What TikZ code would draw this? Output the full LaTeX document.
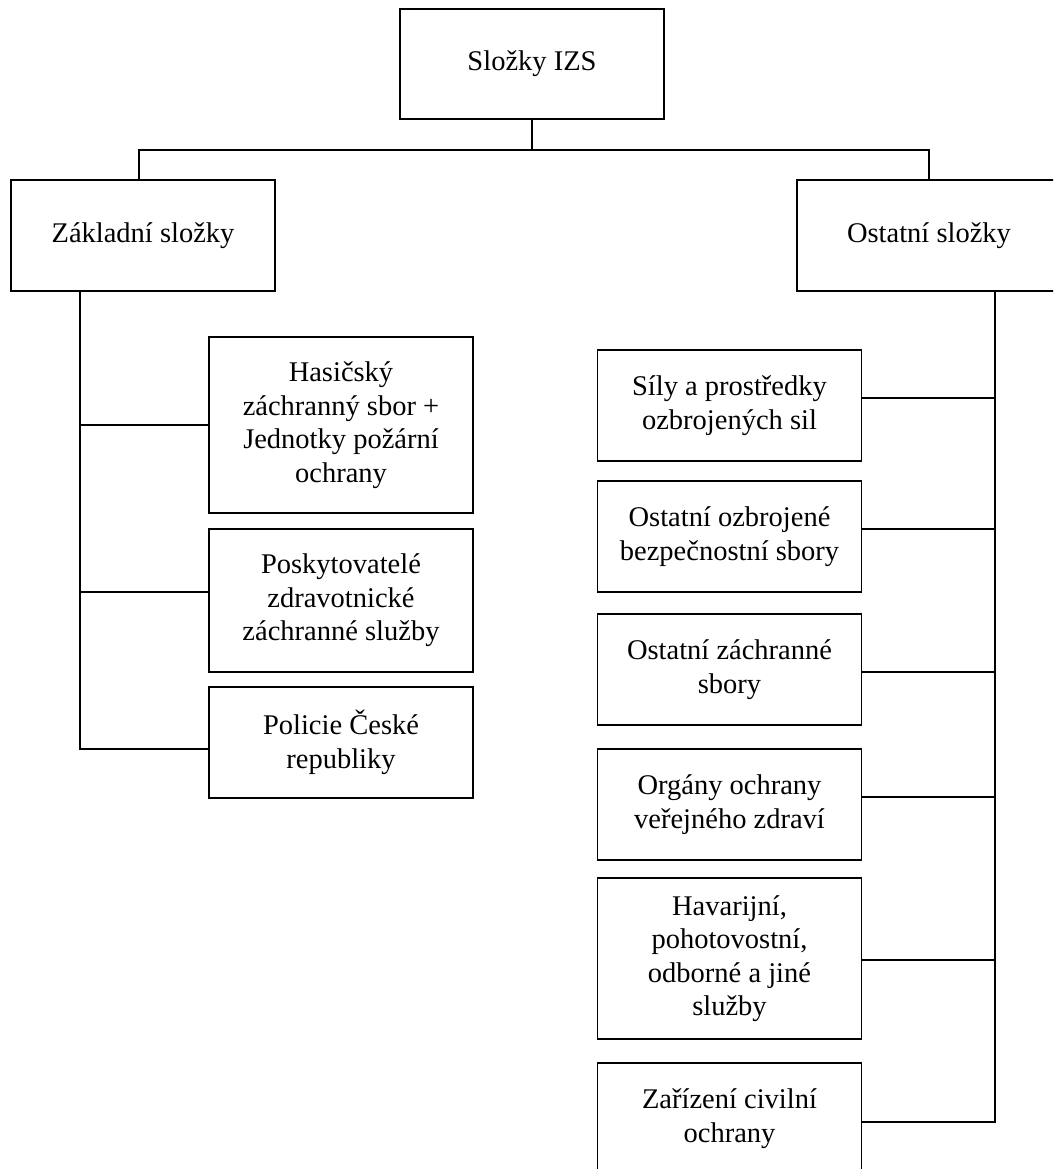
\documentclass[tikz,border=0pt]{standalone}
\usepackage{fontspec}
\setmainfont{Liberation Serif}
\usetikzlibrary{positioning}

\begin{document}
\begin{tikzpicture}[x=1pt,y=-1pt,line width=1.6pt,
    every node/.style={draw,rectangle,align=center,inner sep=0pt,
    minimum width=264pt,font=\fontsize{28.5}{33.5}\selectfont}]
  \useasboundingbox (0,0) rectangle (1053,1169);
  \clip (0,0) rectangle (1053,1169);

  \node[minimum height=110pt] (izs) at (532,64) {Složky IZS};
  \node[minimum height=111pt] (zakladni) at (143,235.5) {Základní složky};
  \node[minimum height=111pt] (ostatni) at (929,235.5) {Ostatní složky};

  % zakladni slozky
  \node[minimum height=176pt] (hasici) at (341,425)
    {Hasičský\\záchranný sbor +\\Jednotky požární\\ochrany};
  \node[minimum height=143pt] (zzs) at (341,600.5)
    {Poskytovatelé\\zdravotnické\\záchranné služby};
  \node[minimum height=111pt] (policie) at (341,742.5)
    {Policie České\\republiky};

  % ostatni slozky
  \node[minimum height=111pt] (armada) at (729.5,405.5)
    {Síly a prostředky\\ozbrojených sil};
  \node[minimum height=111pt] (sbory) at (729.5,536.5)
    {Ostatní ozbrojené\\bezpečnostní sbory};
  \node[minimum height=111pt] (zachranne) at (729.5,669.5)
    {Ostatní záchranné\\sbory};
  \node[minimum height=111pt] (hygiena) at (729.5,804.5)
    {Orgány ochrany\\veřejného zdraví};
  \node[minimum height=161pt] (sluzby) at (729.5,958.5)
    {Havarijní,\\pohotovostní,\\odborné a jiné\\služby};
  \node[minimum height=111pt] (civilni) at (729.5,1118.5)
    {Zařízení civilní\\ochrany};

  \coordinate (bus) at (532,150);
  \coordinate (lt) at (80,291);
  \coordinate (rt) at (995,291);

  \draw (izs) -- (bus);
  \draw ([xshift=-4pt]zakladni.north) |- (bus) -| (ostatni.north);

  \draw (lt) |- ([yshift=-6.5pt]policie.west);
  \draw (lt |- hasici.west) -- (hasici.west);
  \draw (lt |- 0,592) -- (zzs.west |- 0,592);

  \draw (rt) |- ([yshift=-3.5pt]civilni.east);
  \draw (rt |- 0,398) -- (armada.east |- 0,398);
  \draw (rt |- 0,529) -- (sbory.east |- 0,529);
  \draw (rt |- 0,672) -- (zachranne.east |- 0,672);
  \draw (rt |- 0,797) -- (hygiena.east |- 0,797);
  \draw (rt |- 0,960) -- (sluzby.east |- 0,960);
\end{tikzpicture}
\end{document}
